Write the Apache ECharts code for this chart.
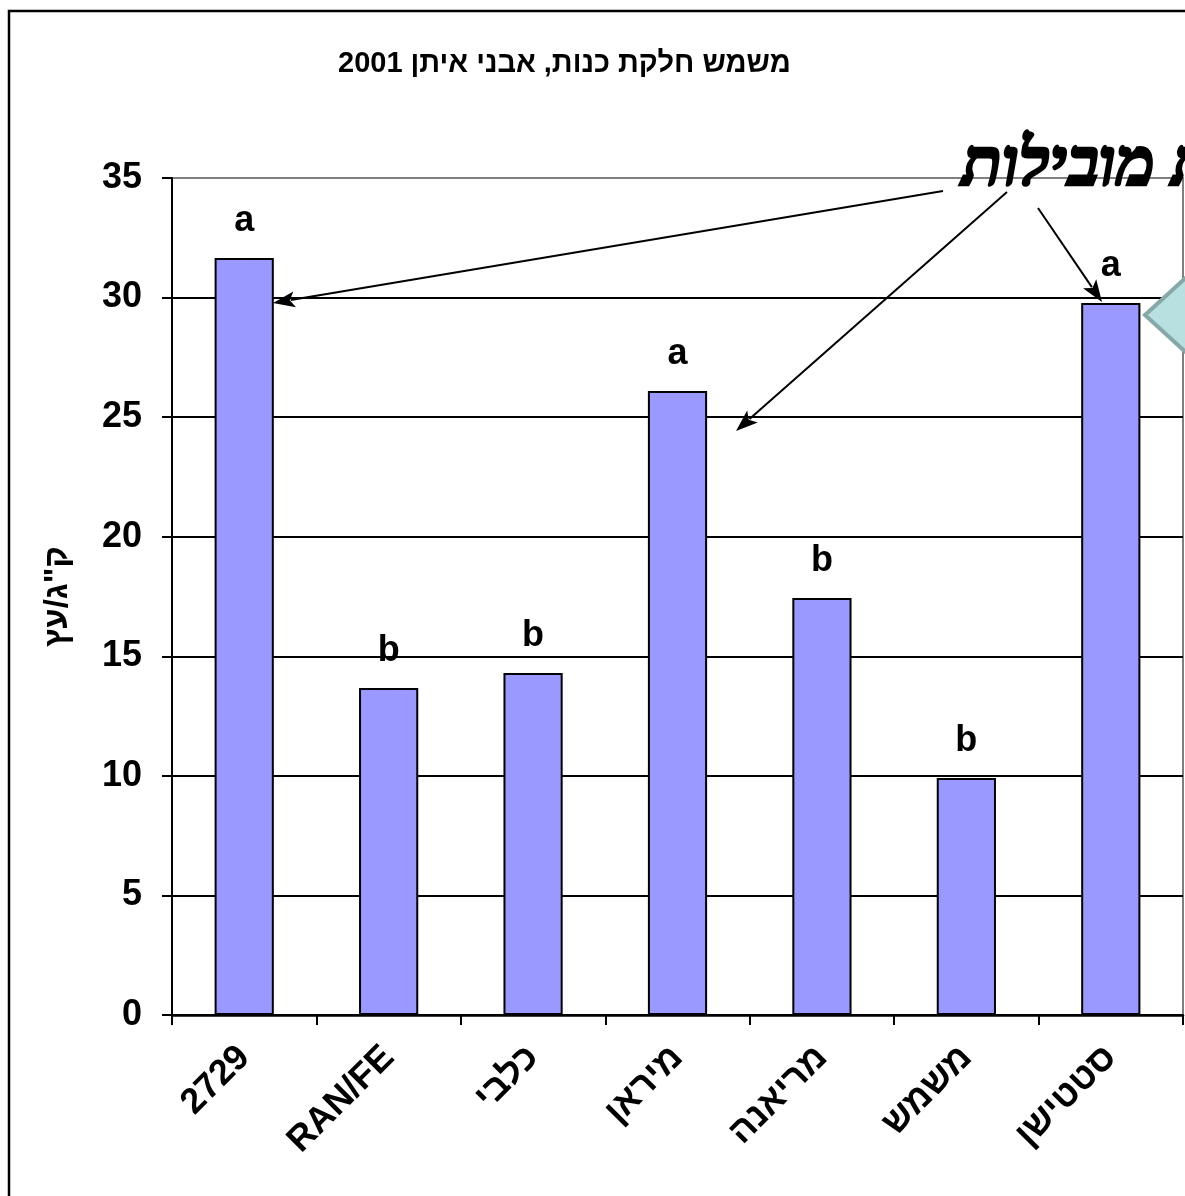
<!DOCTYPE html>
<html>
<head>
<meta charset="utf-8">
<script src="https://cdn.jsdelivr.net/npm/echarts@6/dist/echarts.min.js"></script>
<style>
html,body{margin:0;padding:0;background:#fff;}
#chart{width:1185px;height:1196px;}
</style>
</head>
<body>
<div id="chart"></div>
<script>
const titleText = '\u202Bמשמש חלקת כנות, אבני איתן 2001\u202C';
const yAxisName = 'ק"ג/עץ';
const categories = ['2729', 'RAN/FE', 'כלבי', 'מיראן', 'מריאנה', 'משמש', 'סטטישן'];
const yields = [31.65, 13.67, 14.3, 26.09, 17.44, 9.91, 29.77];
const letters = ['a', 'b', 'b', 'a', 'b', 'b', 'a'];
const yTicks = [0, 5, 10, 15, 20, 25, 30, 35];
const annotationText = 'ת מובילות';

const chart = echarts.init(document.getElementById('chart'));
const FONT = '"Liberation Sans", Arial, sans-serif';

function arrow(x1, y1, x2, y2) {
  const dx = x2 - x1, dy = y2 - y1;
  const len = Math.sqrt(dx * dx + dy * dy);
  const ux = dx / len, uy = dy / len;
  const L = 22, W = 8;
  const bx = x2 - ux * L, by = y2 - uy * L;
  return [
    { type: 'line', z: 100, shape: { x1: x1, y1: y1, x2: bx + ux * 4, y2: by + uy * 4 },
      style: { stroke: '#000', lineWidth: 2 } },
    { type: 'polygon', z: 100,
      shape: { points: [[x2, y2], [bx - uy * W, by + ux * W], [bx + ux * 5, by + uy * 5], [bx + uy * W, by - ux * W]] },
      style: { fill: '#000' } }
  ];
}

const splitColors = yTicks.map((v, i) => i === yTicks.length - 1 ? '#808080' : '#000');

chart.setOption({
  animation: false,
  backgroundColor: '#fff',
  title: {
    text: titleText,
    left: 333,
    top: 44,
    textStyle: { fontFamily: FONT, fontWeight: 'bold', fontSize: 29, color: '#000' }
  },
  grid: {
    left: 172, right: 2, top: 178, bottom: 181,
    show: true, borderColor: '#808080', borderWidth: 2, backgroundColor: 'transparent'
  },
  xAxis: {
    type: 'category',
    data: categories,
    axisLine: { lineStyle: { color: '#000', width: 2.5 } },
    axisTick: { show: true, length: 10, alignWithLabel: false, lineStyle: { color: '#000', width: 2 } },
    axisLabel: {
      rotate: 45, margin: 37, interval: 0,
      fontFamily: FONT, fontWeight: 'bold', fontSize: 36, color: '#000'
    }
  },
  yAxis: {
    type: 'value',
    min: 0, max: 35, interval: 5,
    name: yAxisName,
    nameLocation: 'middle',
    nameGap: 98,
    nameTextStyle: { fontFamily: FONT, fontWeight: 'bold', fontSize: 33, color: '#000' },
    axisLine: { show: true, lineStyle: { color: '#000', width: 2 } },
    axisTick: { show: true, length: 10, lineStyle: { color: '#000', width: 2 } },
    axisLabel: {
      margin: 30,
      fontFamily: FONT, fontWeight: 'bold', fontSize: 36, color: '#000'
    },
    splitLine: { show: true, lineStyle: { color: splitColors, width: 2 } }
  },
  series: [{
    type: 'bar',
    data: yields,
    barWidth: '41%',
    itemStyle: { color: '#9999ff', borderColor: '#000', borderWidth: 2 },
    label: {
      show: true,
      position: 'top',
      distance: 19,
      formatter: p => letters[p.dataIndex],
      fontFamily: FONT, fontWeight: 'bold', fontSize: 36, color: '#000'
    }
  }],
  graphic: [
    { type: 'rect', z: 90, shape: { x: 9, y: 11, width: 1400, height: 1400 },
      style: { fill: 'none', stroke: '#000', lineWidth: 2.5 } },
    { type: 'polygon', z: 95,
      shape: { points: [[1145, 315], [1190, 274], [1190, 356]] },
      style: { fill: '#b8e0e0', stroke: '#86a8a8', lineWidth: 4 } },
    { type: 'text', z: 110, x: 962, y: 135,
      style: {
        text: annotationText,
        font: 'italic bold 66px "Liberation Serif", "DejaVu Serif", serif',
        fill: '#000', stroke: '#000', lineWidth: 2.5,
        textAlign: 'left', textVerticalAlign: 'top'
      } }
  ].concat(arrow(943, 191, 273, 303))
   .concat(arrow(1007, 192, 736, 431))
   .concat(arrow(1038, 208, 1102, 302))
});
</script>
</body>
</html>
